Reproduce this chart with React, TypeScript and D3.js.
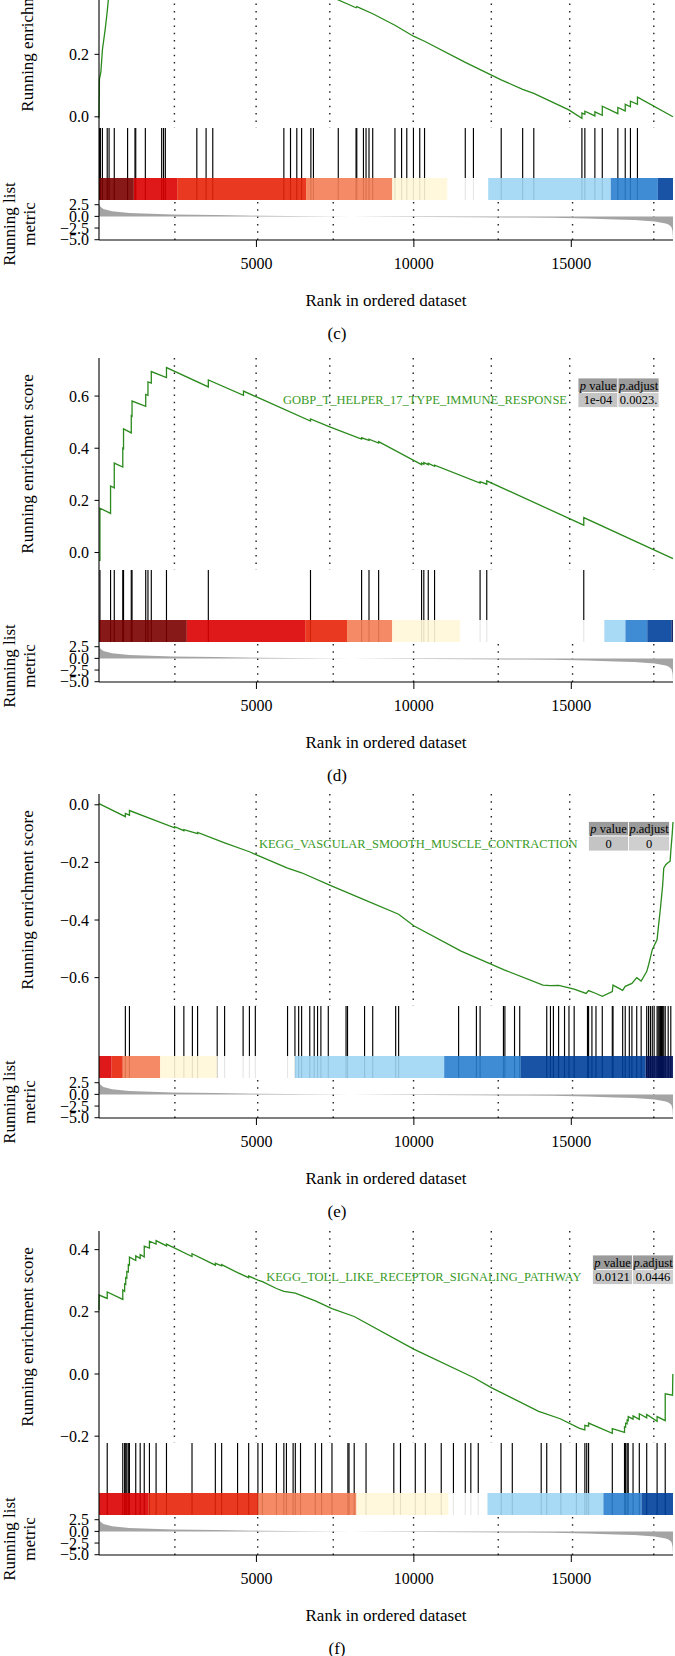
import * as d3 from "d3";

const W = 675;
const H = 1656;
const X_LEFT = 99;
const X_RIGHT = 673;
const RANK_MAX = 18230;

// vertical layout of one GSEA block, measured from the top of its ES panel
const ES_H = 212;
const HEAT_TOP = 262;
const RUG_BOTTOM = 284;
const METRIC_TOP = 286;
const METRIC_BOTTOM = 324;

const panelTops = [-84, 358, 794, 1231];
const panelLetters = ["(c)", "(d)", "(e)", "(f)"];

// running enrichment score, [rank, ES]
const esC = [
  [0, -0.005], [14, 0.121], [60, 0.144], [108, 0.214], [200, 0.283], [261, 0.337],
  [320, 0.4], [485, 0.44], [908, 0.47], [1143, 0.5], [1472, 0.52], [1990, 0.55],
  [2107, 0.57], [3107, 0.58], [3401, 0.6], [3613, 0.612], [5871, 0.5], [6082, 0.49],
  [6811, 0.41], [7600, 0.374], [8164, 0.349], [8187, 0.353], [8693, 0.33],
  [9399, 0.293], [9987, 0.258], [10339, 0.242], [11633, 0.174], [12774, 0.118],
  [13455, 0.088], [13809, 0.075], [14921, 0.022], [15337, -0.005], [15337, 0.012],
  [15431, 0.008], [15431, 0.018], [15749, 0.003], [15749, 0.016], [15984, 0.005],
  [15984, 0.034], [16478, 0.01], [16478, 0.03], [16713, 0.019], [16713, 0.04],
  [16878, 0.032], [16878, 0.05], [17101, 0.04], [17101, 0.063], [18230, 0.0],
];
const esD = [
  [0, -0.03], [30, -0.03], [30, 0.17], [367, 0.15], [367, 0.255], [485, 0.248],
  [485, 0.343], [755, 0.328], [755, 0.4], [779, 0.398], [779, 0.474], [1025, 0.459],
  [1025, 0.525], [1049, 0.523], [1049, 0.581], [1484, 0.561], [1484, 0.606],
  [1555, 0.603], [1555, 0.654], [1661, 0.65], [1661, 0.694], [2143, 0.671],
  [2143, 0.709], [3472, 0.635], [3472, 0.662], [4589, 0.603], [4589, 0.619],
  [6717, 0.504], [6717, 0.512], [7326, 0.482], [8340, 0.435], [8340, 0.44],
  [8575, 0.43], [8575, 0.435], [8881, 0.42], [8881, 0.425], [10245, 0.337],
  [10245, 0.343], [10316, 0.339], [10316, 0.345], [10457, 0.337], [10457, 0.342],
  [10657, 0.331], [10657, 0.335], [12103, 0.266], [12103, 0.272], [12315, 0.262],
  [12315, 0.275], [15396, 0.105], [15396, 0.134], [18230, -0.023],
];
const esE = [
  [0, 0.004], [837, -0.041], [837, -0.03], [967, -0.036], [967, -0.02],
  [2401, -0.08], [2401, -0.076], [2695, -0.09], [2695, -0.086], [3131, -0.1],
  [3131, -0.096], [3989, -0.132], [4777, -0.163], [4965, -0.172], [5988, -0.22],
  [6435, -0.236], [7326, -0.279], [8434, -0.33], [9516, -0.38], [9995, -0.42],
  [11500, -0.508], [12868, -0.573], [14100, -0.626], [14338, -0.628], [14600, -0.627],
  [15091, -0.64], [15469, -0.655], [15549, -0.645], [15784, -0.655], [15984, -0.665],
  [16302, -0.648], [16325, -0.626], [16631, -0.644], [16713, -0.63], [16925, -0.62],
  [17078, -0.6], [17219, -0.612], [17395, -0.579], [17454, -0.556], [17572, -0.503],
  [17725, -0.468], [17760, -0.43], [17830, -0.36], [17901, -0.28], [17936, -0.22],
  [18000, -0.208], [18077, -0.2], [18138, -0.196], [18160, -0.161], [18206, -0.1],
  [18230, -0.06],
];
const esF = [
  [0, 0.205], [5, 0.254], [261, 0.243], [261, 0.264], [755, 0.24], [755, 0.27],
  [814, 0.266], [814, 0.29], [849, 0.288], [849, 0.31], [884, 0.308], [884, 0.33],
  [931, 0.328], [931, 0.352], [967, 0.35], [967, 0.376], [1167, 0.365], [1167, 0.38],
  [1308, 0.372], [1308, 0.384], [1437, 0.377], [1437, 0.411], [1602, 0.405],
  [1602, 0.427], [1813, 0.418], [1813, 0.429], [2143, 0.412], [2143, 0.418],
  [2954, 0.378], [2954, 0.387], [3695, 0.35], [3695, 0.356], [3895, 0.348],
  [3895, 0.352], [4401, 0.326], [4753, 0.31], [4753, 0.315], [5047, 0.302],
  [5189, 0.297], [5635, 0.275], [5871, 0.266], [6235, 0.26], [6870, 0.235],
  [7399, 0.21], [8105, 0.185], [9995, 0.08], [11911, -0.012], [12458, -0.044],
  [13963, -0.12], [14648, -0.144], [15263, -0.175], [15431, -0.18], [15431, -0.165],
  [15549, -0.168], [15549, -0.158], [16302, -0.191], [16302, -0.176], [16690, -0.188],
  [16690, -0.17], [16725, -0.171], [16725, -0.158], [16773, -0.16], [16773, -0.148],
  [16808, -0.15], [16808, -0.137], [16961, -0.145], [16961, -0.135], [17160, -0.146],
  [17160, -0.128], [17395, -0.141], [17395, -0.13], [17725, -0.152], [17725, -0.137],
  [17983, -0.15], [17983, -0.064], [18215, -0.068], [18225, 0.0],
];

// ranks of the gene set members (rug)
const hitsC = [
  20, 45, 108, 261, 320, 485, 908, 1143, 1167, 1472, 1990, 2049, 2107, 3107, 3401,
  3613, 5871, 6082, 6282, 6435, 6729, 6811, 7599, 8164, 8187, 8399, 8481, 8575, 8693,
  9399, 9610, 9775, 9987, 10187, 10339, 11633, 11892, 12774, 13455, 13809, 15337,
  15431, 15749, 15984, 16478, 16713, 16878, 17101,
];
const hitsD = [
  30, 367, 485, 755, 779, 1025, 1049, 1484, 1555, 1661, 2143, 3472, 6717, 8340, 8575,
  8881, 10245, 10316, 10457, 10657, 12103, 12315, 15396,
];
const hitsE = [
  837, 967, 2401, 2695, 2966, 3131, 3754, 3989, 4577, 4777, 4965, 5988, 6223, 6341,
  6435, 6694, 6835, 6941, 7047, 7282, 7846, 7893, 8434, 8693, 9422, 9516, 11421,
  11986, 12104, 12845, 12891, 13197, 13362, 14220, 14338, 14432, 14597, 14785, 14926,
  15091, 15514, 15549, 15655, 15784, 15984, 16302, 16325, 16631, 16713, 16843, 16925,
  17078, 17219, 17395, 17454, 17513, 17572, 17631, 17725, 17760, 17795, 17830, 17866,
  17901, 17936, 17983, 18077, 18160,
];
const hitsF = [
  261, 755, 814, 849, 884, 931, 967, 1167, 1308, 1437, 1602, 1813, 2143, 2954, 3695,
  3895, 4401, 4753, 5047, 5189, 5635, 5871, 5953, 6165, 6235, 6400, 6870, 7070, 7399,
  7905, 7940, 8105, 8481, 9363, 9575, 10045, 10363, 10869, 11257, 11633, 11809, 12045,
  12774, 13126, 14044, 14220, 14667, 15161, 15431, 15490, 15549, 16302, 16690, 16725,
  16773, 16808, 16961, 17160, 17395, 17725, 17983,
];

// colour bar below the rug: break ranks and bin colours
const heatBreaksC = [0, 1107, 2483, 6576, 9315, 11068, 12361, 16254, 17748, 18230];
const heatColorsC = ["#7a0000", "#dc0000", "#e82409", "#f47e55", "#fff7d8", "#ffffff", "#9fd5f4", "#2a7fd0", "#00409c"];
const heatBreaksD = [0, 2789, 6548, 7877, 9312, 11475, 16049, 16719, 17413, 18180, 18230];
const heatColorsD = ["#7a0000", "#dc0000", "#e82409", "#f47e55", "#fff7d8", "#ffffff", "#9fd5f4", "#2a7fd0", "#00409c", "#001259"];
const heatBreaksE = [0, 402, 755, 1943, 3754, 6224, 10963, 13397, 17361, 18230];
const heatColorsE = ["#dc0000", "#e82409", "#f47e55", "#fff7d8", "#ffffff", "#9fd5f4", "#2a7fd0", "#00409c", "#001259"];
const heatBreaksF = [0, 1578, 5059, 8175, 11103, 12338, 16019, 17230, 18230];
const heatColorsF = ["#dc0000", "#e82409", "#f47e55", "#fff7d8", "#ffffff", "#9fd5f4", "#2a7fd0", "#00409c"];

// ranked list metric (same ranked gene list in every block)
const metricRanks = [0, 40, 140, 415, 960, 2330, 3700, 5070, 6000, 7000, 8000, 9000, 10500, 12000, 13500, 14400, 15500, 16400, 17000, 17650, 18000, 18100, 18180, 18215, 18230];
const metricValues = [2.7, 2.1, 1.6, 1.1, 0.75, 0.42, 0.28, 0.15, 0.07, 0.02, -0.01, -0.06, -0.12, -0.18, -0.24, -0.3, -0.45, -0.65, -0.8, -1.1, -1.5, -1.8, -2.3, -3.2, -4.9];

// dotted vertical guides
const guideRanksES = [2395, 4990, 7330, 9980, 12460, 14950, 17620];
const guideRanksMetric = [2410, 5040, 7440, 9990, 12680, 15040, 17620];

const descriptions = ["", "GOBP_T_HELPER_17_TYPE_IMMUNE_RESPONSE", "KEGG_VASCULAR_SMOOTH_MUSCLE_CONTRACTION", "KEGG_TOLL_LIKE_RECEPTOR_SIGNALING_PATHWAY"];
const pValues = ["", "1e-04", "0", "0.0121"];
const pAdjusted = ["", "0.0023.", "0", "0.0446"];

const xTicks = [5000, 10000, 15000];
const metricTicks = [2.5, 0, -2.5, -5];

const esSeries = [esC, esD, esE, esF];
const hitSeries = [hitsC, hitsD, hitsE, hitsF];
const heatBreaks = [heatBreaksC, heatBreaksD, heatBreaksE, heatBreaksF];
const heatColors = [heatColorsC, heatColorsD, heatColorsE, heatColorsF];

// table placement per block (left edge, header top relative to block top)
const TABLE_POS = [null, { x: 578, y: 20 }, { x: 588.5, y: 27.5 }, { x: 592.5, y: 24 }];

const FONT = "'Liberation Serif', 'DejaVu Serif', serif";
const LINE_GREEN = "#2a8a1c";
const TEXT_GREEN = "#3a9a28";
const TICK_SIZE = 16;
const TITLE_SIZE = 17;

const xScale = d3.scaleLinear().domain([0, RANK_MAX]).range([X_LEFT, X_RIGHT]);
const fmt = d3.format(".1f");

const GseaBlock = ({ idx }) => {
  const T = panelTops[idx];
  const es = esSeries[idx];

  // ES panel y scale with ggplot-like 5% expansion
  const [lo, hi] = d3.extent(es, (d) => d[1]);
  const pad = (hi - lo) * 0.05;
  const yES = d3.scaleLinear().domain([lo - pad, hi + pad]).range([T + ES_H, T]);
  const esTicks = yES.ticks(4);

  const yMetric = d3.scaleLinear().domain([-5.06, 3.08]).range([T + METRIC_BOTTOM, T + METRIC_TOP]);

  const esLine = d3.line().x((d) => xScale(d[0])).y((d) => yES(d[1]));
  const metricPts = metricRanks.map((r, i) => [r, metricValues[i]]);
  const metricArea = d3
    .area()
    .x((d) => xScale(d[0]))
    .y0(yMetric(0))
    .y1((d) => yMetric(d[1]));

  const breaks = heatBreaks[idx];
  const cols = heatColors[idx];
  const table = TABLE_POS[idx];

  return (
    <g>
      {/* dotted guides */}
      {guideRanksES.map((r) => (
        <line key={"ge" + r} x1={xScale(r)} x2={xScale(r)} y1={T} y2={T + ES_H}
          stroke="#222" strokeWidth={1.4} strokeDasharray="1.5 5.8" />
      ))}
      {guideRanksMetric.map((r) => (
        <line key={"gm" + r} x1={xScale(r)} x2={xScale(r)} y1={T + METRIC_TOP} y2={T + METRIC_BOTTOM}
          stroke="#222" strokeWidth={1.4} strokeDasharray="1.5 5.8" />
      ))}

      {/* running enrichment score */}
      <path d={esLine(es)} fill="none" stroke={LINE_GREEN} strokeWidth={1.3} />

      {/* rug of hits */}
      {hitSeries[idx].map((r, i) => (
        <line key={"h" + i} x1={xScale(r)} x2={xScale(r)} y1={T + ES_H} y2={T + RUG_BOTTOM}
          stroke="#000" strokeWidth={1.15} />
      ))}
      {/* colour bar */}
      {cols.map((c, i) => (
        <rect key={"c" + i} x={xScale(breaks[i])} y={T + HEAT_TOP}
          width={xScale(breaks[i + 1]) - xScale(breaks[i])} height={RUG_BOTTOM - HEAT_TOP}
          fill={c} fillOpacity={0.9} />
      ))}

      {/* ranked list metric */}
      <path d={metricArea(metricPts)} fill="#a4a4a4" />

      {/* axes */}
      <line x1={X_LEFT} x2={X_LEFT} y1={Math.max(T, 0)} y2={T + METRIC_BOTTOM} stroke="#000" strokeWidth={1.1} />
      <line x1={X_LEFT} x2={X_RIGHT} y1={T + METRIC_BOTTOM} y2={T + METRIC_BOTTOM} stroke="#000" strokeWidth={1.1} />
      {esTicks.map((t) => (
        <g key={"et" + t}>
          <line x1={X_LEFT - 4.5} x2={X_LEFT} y1={yES(t)} y2={yES(t)} stroke="#000" />
          <text x={X_LEFT - 10} y={yES(t)} dy="0.35em" textAnchor="end" fontSize={TICK_SIZE}>{fmt(t)}</text>
        </g>
      ))}
      {metricTicks.map((t) => (
        <g key={"mt" + t}>
          <line x1={X_LEFT - 4.5} x2={X_LEFT} y1={yMetric(t)} y2={yMetric(t)} stroke="#000" />
          <text x={X_LEFT - 10} y={yMetric(t)} dy="0.35em" textAnchor="end" fontSize={TICK_SIZE}>{fmt(t)}</text>
        </g>
      ))}
      {xTicks.map((t) => (
        <g key={"xt" + t}>
          <line x1={xScale(t)} x2={xScale(t)} y1={T + METRIC_BOTTOM} y2={T + METRIC_BOTTOM + 7} stroke="#000" />
          <text x={xScale(t)} y={T + 347} dy="0.35em" textAnchor="middle" fontSize={TICK_SIZE}>{t}</text>
        </g>
      ))}

      {/* axis titles */}
      <text transform={`translate(27,${T + ES_H / 2}) rotate(-90)`} textAnchor="middle" dy="0.35em" fontSize={TITLE_SIZE}>
        Running enrichment score
      </text>
      <text transform={`translate(9.5,${T + 308}) rotate(-90)`} textAnchor="middle" dy="0.35em" fontSize={TITLE_SIZE}>
        Running list
      </text>
      <text transform={`translate(29,${T + 308}) rotate(-90)`} textAnchor="middle" dy="0.35em" fontSize={TITLE_SIZE}>
        metric
      </text>
      <text x={(X_LEFT + X_RIGHT) / 2} y={T + 384} dy="0.35em" textAnchor="middle" fontSize={TITLE_SIZE}>
        Rank in ordered dataset
      </text>
      <text x={337} y={T + 417} dy="0.35em" textAnchor="middle" fontSize={TITLE_SIZE}>
        {panelLetters[idx]}
      </text>

      {/* p value table */}
      {table && (
        <g fontSize={12.5}>
          <rect x={table.x} y={T + table.y} width={40} height={14.5} fill="#9b9b9b" stroke="#fff" strokeWidth={0.8} />
          <rect x={table.x + 40} y={T + table.y} width={41} height={14.5} fill="#9b9b9b" stroke="#fff" strokeWidth={0.8} />
          <rect x={table.x} y={T + table.y + 14.5} width={40} height={15} fill="#c4c4c4" stroke="#fff" strokeWidth={0.8} />
          <rect x={table.x + 40} y={T + table.y + 14.5} width={41} height={15} fill="#cfcfcf" stroke="#fff" strokeWidth={0.8} />
          <text x={table.x + 20} y={T + table.y + 7.25} dy="0.35em" textAnchor="middle">
            <tspan fontStyle="italic">p</tspan> value
          </text>
          <text x={table.x + 60.5} y={T + table.y + 7.25} dy="0.35em" textAnchor="middle">
            <tspan fontStyle="italic">p</tspan>.adjust
          </text>
          <text x={table.x + 20} y={T + table.y + 22} dy="0.35em" textAnchor="middle">{pValues[idx]}</text>
          <text x={table.x + 60.5} y={T + table.y + 22} dy="0.35em" textAnchor="middle">{pAdjusted[idx]}</text>
          <text x={table.x - 11} y={T + table.y + 22} dy="0.35em" textAnchor="end" fill={TEXT_GREEN}>
            {descriptions[idx]}
          </text>
        </g>
      )}
    </g>
  );
};

export default function App() {
  return (
    <svg width={W} height={H} fontFamily={FONT}
      style={{ position: "absolute", left: 0, top: 0, background: "#fff" }}>
      <rect width={W} height={H} fill="#fff" />
      {panelTops.map((_, i) => (
        <GseaBlock key={i} idx={i} />
      ))}
    </svg>
  );
}
